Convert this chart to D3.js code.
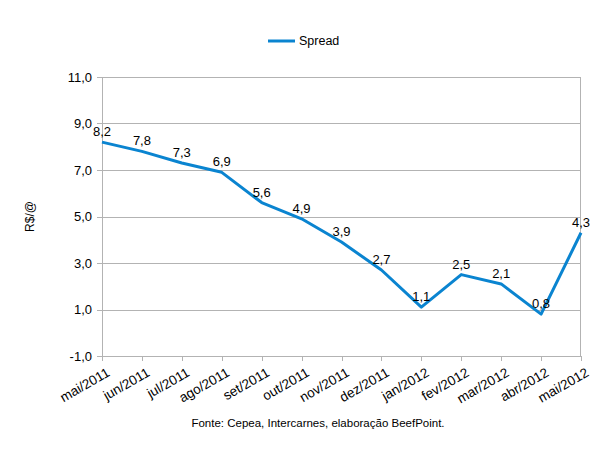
<!DOCTYPE html>
<html>
<head>
<meta charset="utf-8">
<script src="https://cdn.jsdelivr.net/npm/d3@7"></script>
<style>
  body { margin: 0; background: #fff; }
  text { font-family: "Liberation Sans", Arial, sans-serif; fill: #000; }
</style>
</head>
<body>
<div id="chart"></div>
<script>
// chart data
const months = ["mai/2011", "jun/2011", "jul/2011", "ago/2011", "set/2011", "out/2011", "nov/2011",
    "dez/2011", "jan/2012", "fev/2012", "mar/2012", "abr/2012", "mai/2012"];
const spread = [8.2, 7.8, 7.3, 6.9, 5.6, 4.9, 3.9, 2.7, 1.1, 2.5, 2.1, 0.8, 4.3];
const yTicks = [-1, 1, 3, 5, 7, 9, 11];
const seriesName = "Spread";
const sourceNote = "Fonte: Cepea, Intercarnes, elaboração BeefPoint.";

const width = 612, height = 453;
const margin = {top: 77, right: 31, bottom: 97, left: 102};
const innerW = width - margin.left - margin.right;
const innerH = height - margin.top - margin.bottom;
const blue = "#0a84d0";
const grid = "#b3b3b3";
const fmt = v => d3.format(".1f")(v).replace(".", ",").replace("−", "-");

const svg = d3.select("#chart").append("svg")
    .attr("width", width)
    .attr("height", height);

const g = svg.append("g")
    .attr("transform", "translate(" + margin.left + "," + margin.top + ")");

const x = d3.scalePoint().domain(months).range([0, innerW]).padding(0);
const y = d3.scaleLinear().domain([-1, 11]).range([innerH, 0]);

// horizontal gridlines + left ticks
g.selectAll(".grid")
    .data(yTicks)
    .join("line")
    .attr("x1", -5).attr("x2", innerW)
    .attr("y1", d => Math.round(y(d)) + 0.5).attr("y2", d => Math.round(y(d)) + 0.5)
    .attr("stroke", grid);

g.selectAll(".ylab")
    .data(yTicks)
    .join("text")
    .attr("x", -10)
    .attr("y", d => y(d))
    .attr("dy", "0.35em")
    .attr("text-anchor", "end")
    .style("font-size", "13px")
    .text(fmt);

// frame lines
g.append("line").attr("x1", 0.5).attr("x2", 0.5).attr("y1", 0).attr("y2", innerH).attr("stroke", grid);
g.append("line").attr("x1", innerW - 0.5).attr("x2", innerW - 0.5).attr("y1", 0).attr("y2", innerH).attr("stroke", grid);

// x ticks + labels
g.selectAll(".xtick")
    .data(months)
    .join("line")
    .attr("x1", d => Math.round(x(d)) + 0.5).attr("x2", d => Math.round(x(d)) + 0.5)
    .attr("y1", innerH).attr("y2", innerH + 5)
    .attr("stroke", grid);

g.selectAll(".xlab")
    .data(months)
    .join("text")
    .attr("text-anchor", "end")
    .attr("transform", d => "translate(" + (x(d) + 4) + "," + (innerH + 11) + ") rotate(-30)")
    .attr("dy", "0.7em")
    .style("font-size", "13.5px")
    .text(d => d);

// series line
const line = d3.line()
    .x((d, i) => x(months[i]))
    .y(d => y(d));

g.append("path")
    .datum(spread)
    .attr("fill", "none")
    .attr("stroke", blue)
    .attr("stroke-width", 3)
    .attr("stroke-linejoin", "round")
    .attr("d", line);

// value labels
g.selectAll(".vlab")
    .data(spread)
    .join("text")
    .attr("x", (d, i) => x(months[i]))
    .attr("y", d => y(d) - 6)
    .attr("text-anchor", "middle")
    .style("font-size", "13px")
    .text(fmt);

// y axis title
svg.append("text")
    .attr("transform", "translate(34," + (margin.top + innerH / 2) + ") rotate(-90)")
    .attr("text-anchor", "middle")
    .style("font-size", "12px")
    .text("R$/@");

// legend
svg.append("line")
    .attr("x1", 268).attr("x2", 295).attr("y1", 41).attr("y2", 41)
    .attr("stroke", blue).attr("stroke-width", 3);
svg.append("text")
    .attr("x", 299).attr("y", 41).attr("dy", "0.35em")
    .style("font-size", "12.5px")
    .text(seriesName);

// source
svg.append("text")
    .attr("x", 318).attr("y", 427)
    .attr("text-anchor", "middle")
    .style("font-size", "11.5px")
    .text(sourceNote);
</script>
</body>
</html>
